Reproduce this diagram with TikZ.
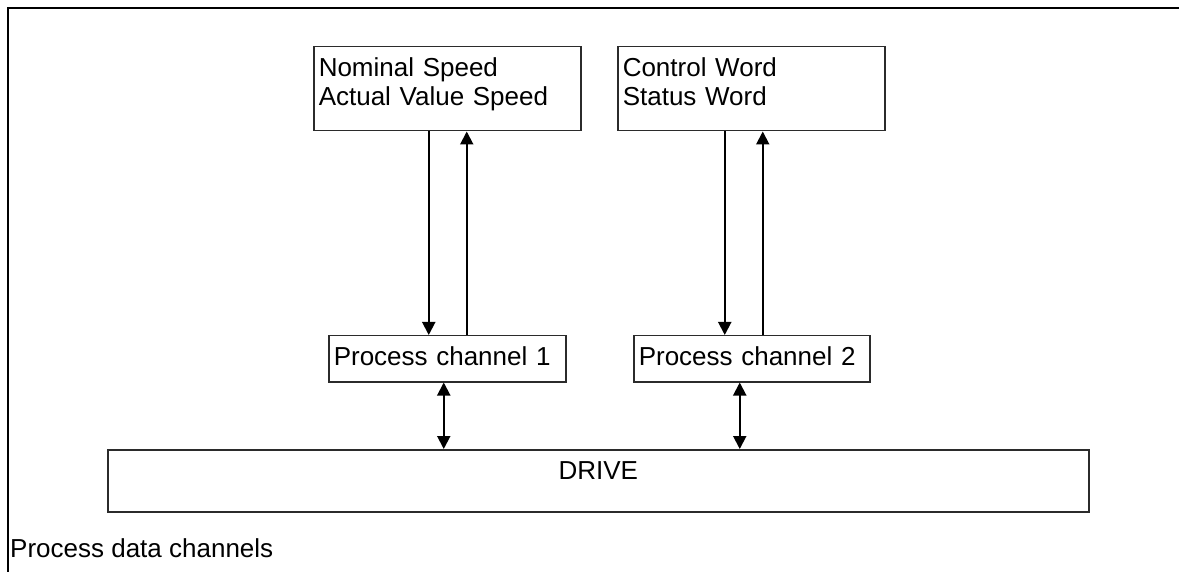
\documentclass[tikz,border=0pt]{standalone}
\usepackage{fontspec}
\setmainfont{Liberation Sans}
\usetikzlibrary{arrows.meta,positioning}
\definecolor{ink}{HTML}{000000}
\definecolor{edge}{HTML}{2B2B2B}
\tikzset{
  box/.style={draw=edge,line width=1.5pt,inner xsep=5pt,inner ysep=4pt,
              anchor=north west,text height=26pt,font=\fontsize{26}{29}\selectfont},
  wordbox/.style={box,text width=257pt,align=left,text depth=50pt},
  chanbox/.style={box,text width=227pt,align=left,text depth=12pt},
  drivebox/.style={box,text width=971pt,align=center,text depth=28pt},
  arrow/.style={-{Triangle[length=13pt,width=13pt]},line width=2pt,draw=ink},
  dblarrow/.style={arrow,{Triangle[length=13pt,width=13pt]}-{Triangle[length=13pt,width=13pt]}}
}

\begin{document}
\begin{tikzpicture}[x=1pt,y=-1pt]
\useasboundingbox (0,0) rectangle (1179,572);
\draw[line width=2.6pt,draw=ink] (1179,8) -- (8,8) -- (8,572);
\node[wordbox] (speed) at (313,46) {Nominal Speed\\Actual Value Speed};
\node[wordbox] (word) at (617,46) {Control Word\\Status Word};
\node[chanbox] (ch1) at (328,335) {Process channel 1};
\node[chanbox,text width=226pt] (ch2) at (633,335) {Process channel 2};
\node[drivebox] (drive) at (107,449) {DRIVE};
\node[anchor=base west,inner sep=0pt,font=\fontsize{26}{29}\selectfont] (title) at (10,557) {Process data channels};
% setpoint down, actual value up
\draw[arrow] ([xshift=-18.5pt]speed.south) -- ([xshift=-18.5pt]speed.south |- ch1.north);
\draw[arrow] ([xshift=19.5pt]speed.south |- ch1.north) -- ([xshift=19.5pt]speed.south);
\draw[arrow] ([xshift=-26.5pt]word.south) -- ([xshift=-26.5pt]word.south |- ch2.north);
\draw[arrow] ([xshift=11.5pt]word.south |- ch2.north) -- ([xshift=11.5pt]word.south);
% channels to drive
\draw[dblarrow] ([xshift=-3.5pt]ch1.south) -- ([xshift=-3.5pt]ch1.south |- drive.north);
\draw[dblarrow] ([xshift=-12pt]ch2.south) -- ([xshift=-12pt]ch2.south |- drive.north);
\end{tikzpicture}
\end{document}
